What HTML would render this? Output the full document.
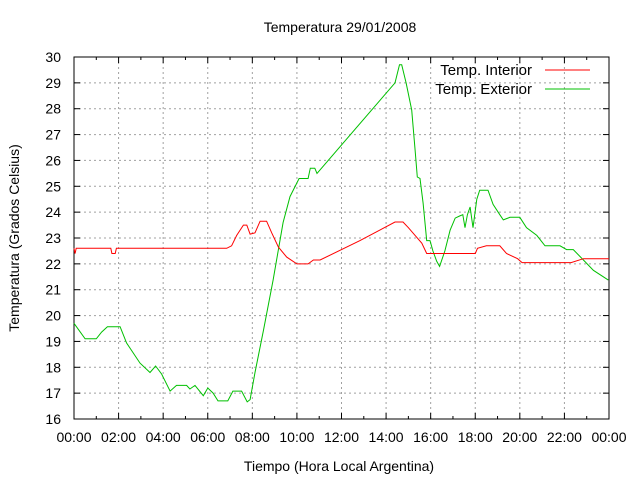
<!DOCTYPE html>
<html><head><meta charset="utf-8"><style>
body{margin:0;background:#fff;}
svg{display:block;font-family:"Liberation Sans",sans-serif;}
</style></head><body>
<svg id="chart" width="640" height="480">
<rect width="640" height="480" fill="#fff"/>
<text x="340" y="32" font-size="14" text-anchor="middle">Temperatura 29/01/2008</text>
<text x="339" y="471" font-size="14" text-anchor="middle">Tiempo (Hora Local Argentina)</text>
<text transform="translate(19,238) rotate(-90)" font-size="14" text-anchor="middle">Temperatura (Grados Celsius)</text>
<g id="grid"></g><g id="axes"></g><g id="series"></g>
<g>
<text x="532" y="75" font-size="15" text-anchor="end">Temp. Interior</text>
<line x1="545" y1="70" x2="590" y2="70" stroke="#ff0000"/>
<text x="532" y="94" font-size="15" text-anchor="end">Temp. Exterior</text>
<line x1="545" y1="89" x2="590" y2="89" stroke="#00c000"/>
</g>
</svg>
<script>
const xTickLabels=["00:00","02:00","04:00","06:00","08:00","10:00","12:00","14:00","16:00","18:00","20:00","22:00","00:00"];
const yTicks=[16,17,18,19,20,21,22,23,24,25,26,27,28,29,30];
const interiorHours=[0,0.05,0.1,1.65,1.7,1.85,1.9,6.85,7.07,7.3,7.6,7.75,7.9,8.12,8.35,8.64,8.87,9.17,9.54,10.0,10.5,10.74,11.04,12.83,14.4,14.76,15.0,15.3,15.6,15.82,16.3,18.0,18.1,18.5,19.1,19.4,19.9,20.1,22.3,22.85,24];
const interiorTemps=[22.6,22.4,22.6,22.6,22.4,22.4,22.6,22.6,22.7,23.1,23.5,23.5,23.15,23.2,23.65,23.65,23.2,22.65,22.26,22.0,22.0,22.15,22.15,22.9,23.62,23.62,23.4,23.1,22.8,22.4,22.4,22.4,22.6,22.7,22.7,22.4,22.2,22.05,22.05,22.2,22.2];
const exteriorHours=[0,0.5,1.0,1.24,1.5,2.07,2.36,2.96,3.41,3.66,3.93,4.31,4.6,5.05,5.2,5.43,5.8,6.0,6.24,6.46,6.9,7.13,7.52,7.77,7.9,8.12,8.5,8.93,9.38,9.69,10.1,10.5,10.6,10.8,10.9,14.4,14.6,14.7,14.9,15.15,15.3,15.4,15.52,15.66,15.82,15.97,16.1,16.27,16.4,16.64,16.87,17.1,17.3,17.44,17.54,17.65,17.77,17.9,18.07,18.2,18.57,18.8,19.1,19.26,19.56,20.0,20.3,20.76,21.13,21.8,22.1,22.4,22.85,23.3,23.97];
const exteriorTemps=[19.7,19.1,19.1,19.36,19.57,19.57,18.94,18.16,17.8,18.05,17.74,17.08,17.3,17.3,17.16,17.3,16.9,17.2,17.0,16.7,16.7,17.08,17.08,16.66,16.75,17.8,19.44,21.37,23.6,24.6,25.3,25.3,25.7,25.7,25.5,29.0,29.7,29.7,29.0,27.95,26.4,25.36,25.3,24.35,22.9,22.9,22.5,22.1,21.9,22.5,23.3,23.77,23.85,23.9,23.4,23.9,24.2,23.4,24.5,24.85,24.85,24.3,23.9,23.7,23.8,23.8,23.4,23.1,22.7,22.7,22.55,22.55,22.15,21.75,21.37];
const L=74,R=609,T=57,B=419;
const xS=h=>L+h*(R-L)/24, yS=t=>B-(t-16)*(B-T)/14;
const NS="http://www.w3.org/2000/svg";
function mk(tag,attrs,parent){const e=document.createElementNS(NS,tag);for(const k in attrs)e.setAttribute(k,attrs[k]);parent.appendChild(e);return e;}
const grid=document.getElementById('grid'),axes=document.getElementById('axes'),series=document.getElementById('series');
xTickLabels.forEach((lab,i)=>{const x=xS(i*2);
 if(i>0&&i<12){const g=mk('line',{x1:x,y1:T,x2:x,y2:B,stroke:'#a0a0a0','stroke-dasharray':'2,3'},grid);
 
 }
 const t=mk('text',{x:x,y:442,'font-size':14,'text-anchor':'middle'},axes);t.textContent=lab;
 
 
});
for(let h=0;h<=24;h++){const x=xS(h),len=h%2?3:6;
 mk('line',{x1:x,y1:B,x2:x,y2:B-len,stroke:'#000'},axes);mk('line',{x1:x,y1:T,x2:x,y2:T+len,stroke:'#000'},axes);}
yTicks.forEach(v=>{const y=yS(v);
 if(v>16&&v<30){const g=mk('line',{x1:L,y1:y,x2:R,y2:y,stroke:'#a0a0a0','stroke-dasharray':'2,3'},grid);
 
 }
 mk('line',{x1:L,y1:y,x2:L+6,y2:y,stroke:'#000'},axes);mk('line',{x1:R,y1:y,x2:R-6,y2:y,stroke:'#000'},axes);
 const t=mk('text',{x:61,y:y+5,'font-size':14,'text-anchor':'end'},axes);t.textContent=v;
 
 
});
const fr=mk('rect',{x:L,y:T,width:R-L,height:B-T,fill:'none',stroke:'#000'},axes);


function line(hs,ts,color,name){const p=mk('polyline',{points:hs.map((h,i)=>xS(h).toFixed(1)+','+yS(ts[i]).toFixed(1)).join(' '),fill:'none',stroke:color,'stroke-width':1},series);
 
 }
line(exteriorHours,exteriorTemps,'#00c000','exterior-temp-line');
line(interiorHours,interiorTemps,'#ff0000','interior-temp-line');
</script>
</body></html>
